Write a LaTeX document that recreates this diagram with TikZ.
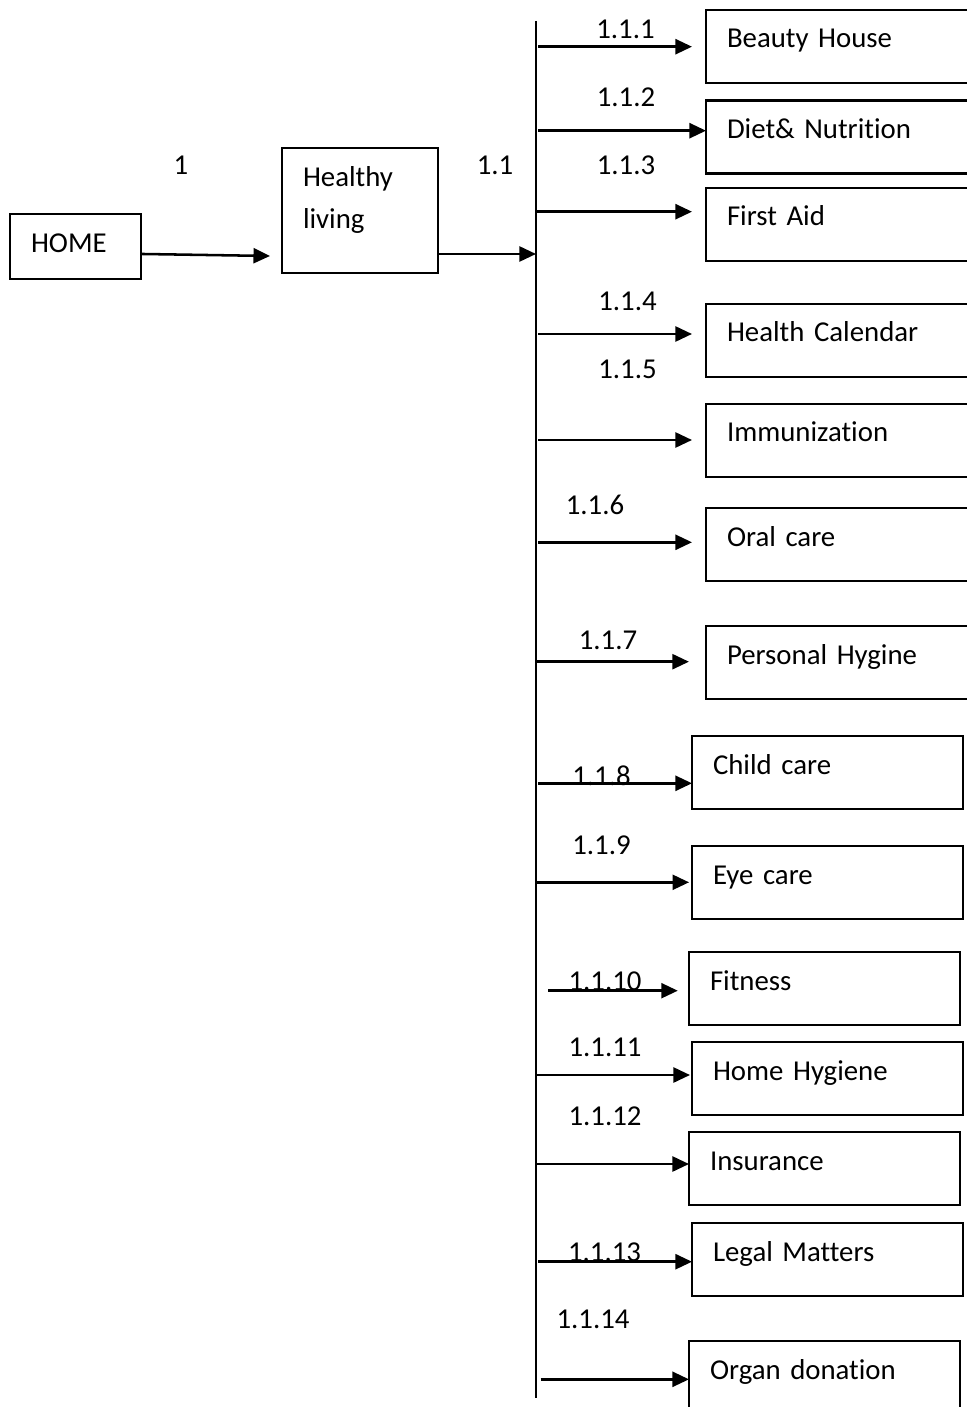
\documentclass[tikz,border=0pt]{standalone}
\usepackage{fontspec}
\setmainfont[Ligatures=NoCommon]{Carlito}
\usetikzlibrary{arrows.meta}
\begin{document}
\begin{tikzpicture}[x=0.375pt,y=-0.375pt,
  every node/.style={font=\fontsize{10.8}{15.75}\selectfont},
  box/.style={draw, line width=0.95pt, anchor=north west, align=left,
    inner xsep=7.875pt, inner ysep=0pt, outer sep=0pt,
    text height=14.25pt, text depth=13.125pt},
  widebox/.style={box, text width=94.5pt},
  narrowbox/.style={box, text width=85.875pt},
  lbl/.style={anchor=base, inner sep=0pt},
  arr/.style={line width=0.95pt, -{Triangle[length=6.2pt,width=5.6pt]}},
  ln/.style={line width=0.95pt}]
\useasboundingbox (0,0) rectangle (966,1407);

% left part
\node[draw, line width=0.95pt, anchor=north west, align=left, inner xsep=7.875pt,
  inner ysep=0pt, outer sep=0pt, text width=33.375pt, text height=14.625pt,
  text depth=9.75pt] (home) at (10,214) {HOME};
\node[draw, line width=0.95pt, anchor=north west, align=left, inner xsep=7.875pt,
  inner ysep=0pt, outer sep=0pt, text width=42.75pt, text height=14.625pt,
  text depth=32.25pt] (hl) at (282,148) {Healthy\\living};
\node[lbl] (l1) at (181,175) {1};
\node[lbl] (l11) at (495,175) {1.1};

\coordinate (hend) at (270,256);
\draw[arr] ([yshift=-2.8pt]home.east) -- (hend);

% bar
\coordinate (bartop) at (536,21);
\coordinate (barbot) at (536,1398);
\draw[ln] (bartop) -- (barbot);
\coordinate (j) at (536,254);
\draw[arr] (j -| hl.east) -- (j);

% boxes
\node[widebox] (b1) at (706,10) {Beauty House};
\node[widebox] (b2) at (706,100.7) {Diet\& Nutrition};
\node[widebox] (b3) at (706,188) {First Aid};
\node[widebox] (b4) at (706,304) {Health Calendar};
\node[widebox] (b5) at (706,404) {Immunization};
\node[widebox] (b6) at (706,508) {Oral care};
\node[widebox] (b7) at (706,626) {Personal Hygine};
\node[narrowbox] (b8) at (692,736) {Child care};
\node[narrowbox] (b9) at (692,846) {Eye care};
\node[narrowbox] (b10) at (689,952) {Fitness};
\node[narrowbox] (b11) at (692,1042) {Home Hygiene};
\node[narrowbox] (b12) at (689,1132) {Insurance};
\node[narrowbox] (b13) at (692,1223) {Legal Matters};
\node[narrowbox] (b14) at (689,1341) {Organ donation};

% labels
\node[lbl] (n1) at (625.5,39) {1.1.1};
\node[lbl] (n2) at (626,107) {1.1.2};
\node[lbl] (n3) at (626,175) {1.1.3};
\node[lbl] (n4) at (627.5,311) {1.1.4};
\node[lbl] (n5) at (627.5,379) {1.1.5};
\node[lbl] (n6) at (595,514.3) {1.1.6};
\node[lbl] (n7) at (608,649.3) {1.1.7};
\node[lbl] (n8) at (601.5,785) {1.1.8};
\node[lbl] (n9) at (601.5,854) {1.1.9};
\node[lbl] (n10) at (605,990) {1.1.10};
\node[lbl] (n11) at (605,1056.7) {1.1.11};
\node[lbl] (n12) at (605,1125) {1.1.12};
\node[lbl] (n13) at (604.5,1261) {1.1.13};
\node[lbl] (n14) at (593,1328.3) {1.1.14};

% arrow starts
\coordinate (s1) at (538,46.7);
\coordinate (s2) at (538,130.7);
\coordinate (s3) at (536,211.7);
\coordinate (s4) at (538,334);
\coordinate (s5) at (538,440);
\coordinate (s6) at (538,542.3);
\coordinate (s7) at (536,661.7);
\coordinate (s8) at (538,783.3);
\coordinate (s9) at (536,882.3);
\coordinate (s10) at (548,990.7);
\coordinate (s11) at (536,1075);
\coordinate (s12) at (537,1164);
\coordinate (s13) at (538,1261.7);
\coordinate (s14) at (540.7,1379.3);

\draw[arr, shorten >=5.25pt] (s1) -- (s1 -| b1.west);
\draw[arr] (s2) -- (s2 -| b2.west);
\draw[arr, shorten >=5.25pt] (s3) -- (s3 -| b3.west);
\draw[arr, shorten >=5.25pt] (s4) -- (s4 -| b4.west);
\draw[arr, shorten >=5.25pt] (s5) -- (s5 -| b5.west);
\draw[arr, shorten >=5.25pt] (s6) -- (s6 -| b6.west);
\draw[arr, shorten >=6.4pt] (s7) -- (s7 -| b7.west);
\draw[arr] (s8) -- (s8 -| b8.west);
\draw[arr, shorten >=1.1pt] (s9) -- (s9 -| b9.west);
\draw[arr, shorten >=4.2pt] (s10) -- (s10 -| b10.west);
\draw[arr, shorten >=0.75pt] (s11) -- (s11 -| b11.west);
\draw[arr] (s12) -- (s12 -| b12.west);
\draw[arr] (s13) -- (s13 -| b13.west);
\draw[arr] (s14) -- (s14 -| b14.west);
\end{tikzpicture}
\end{document}
